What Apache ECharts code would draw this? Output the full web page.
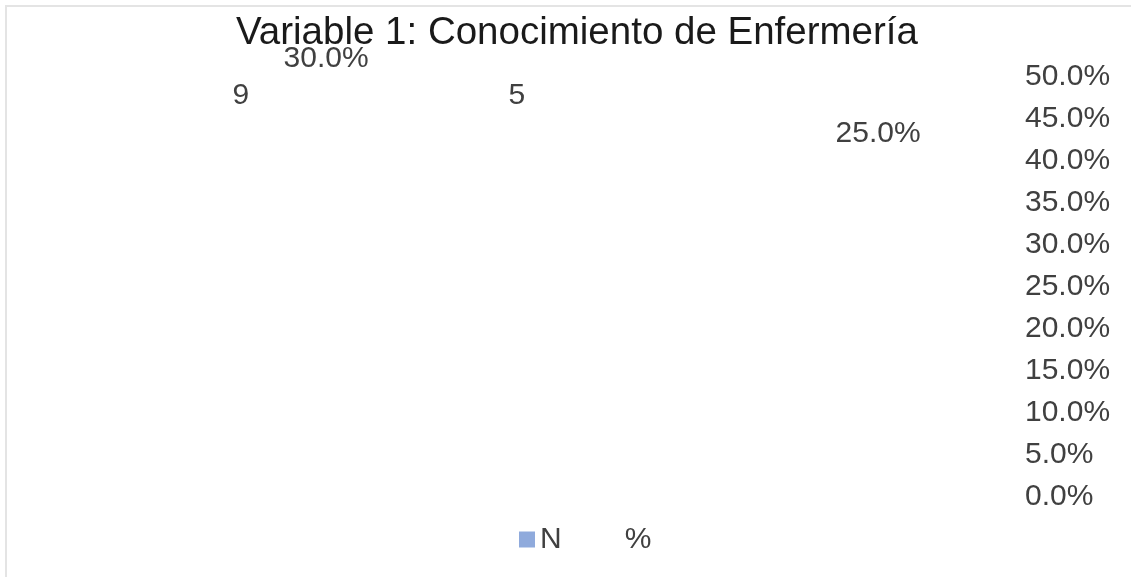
<!DOCTYPE html>
<html>
<head>
<meta charset="utf-8">
<script src="https://cdn.jsdelivr.net/npm/echarts@6/dist/echarts.min.js"></script>
<style>
  html, body { margin: 0; padding: 0; background: #fff; }
  #frame {
    position: absolute; left: 5px; top: 5px; width: 1140px; height: 590px;
    border-left: 2px solid #e4e4e4; border-top: 2px solid #e4e4e4;
  }
  #main { position: absolute; left: 0; top: 0; width: 1131px; height: 577px; }
</style>
</head>
<body>
<div id="frame"></div>
<div id="main"></div>
<script>
// datos del gráfico
var categorias = ['Bajo', 'Medio', 'Alto']
var valoresN = [9, 5, '-']
var valoresPct = [30, '-', 25]
var ticksPct = [0, 5, 10, 15, 20, 25, 30, 35, 40, 45, 50]

var gris = '#404040'
var fuente = '"Liberation Sans", Arial, sans-serif'
var tam = 30

var myChart = echarts.init(document.getElementById('main'))

var option = {
  animation: false,
  title: {
    text: 'Variable 1: Conocimiento de Enfermería',
    left: 231,
    top: 9,
    textStyle: { fontFamily: fuente, fontSize: 38.5, fontWeight: 'normal', color: '#1a1a1a' }
  },
  legend: {
    left: 514,
    top: 519.5,
    itemWidth: 16,
    itemHeight: 16,
    itemGap: 42,
    icon: 'rect',
    textStyle: { fontFamily: fuente, fontSize: tam, color: gris },
    data: [
      { name: 'N', itemStyle: { color: '#8FAADC' } },
      { name: '%', itemStyle: { color: 'rgba(0,0,0,0)' } }
    ]
  },
  grid: { left: 145.5, width: 828, top: 77, bottom: 80 },
  xAxis: {
    type: 'category',
    data: categorias,
    axisLine: { show: false },
    axisTick: { show: false },
    axisLabel: { show: false }
  },
  yAxis: [
    {
      type: 'value',
      position: 'right',
      min: ticksPct[0],
      max: ticksPct[ticksPct.length - 1],
      interval: 5,
      axisLine: { show: false },
      axisTick: { show: false },
      splitLine: { show: false },
      axisLabel: {
        margin: 51.5,
        showMaxLabel: true,
        showMinLabel: true,
        fontFamily: fuente,
        fontSize: tam,
        color: gris,
        formatter: function (v) { return v.toFixed(1) + '%' }
      }
    },
    // eje oculto para N (las barras sobrepasan el área y quedan recortadas)
    { type: 'value', show: false, min: 0, max: 4 },
    // eje oculto para %
    { type: 'value', show: false, min: 0, max: 28 }
  ],
  series: [
    {
      name: 'N',
      type: 'bar',
      yAxisIndex: 1,
      data: valoresN,
      barWidth: 60,
      barGap: '42%',
      itemStyle: { color: 'rgba(0,0,0,0)' },
      label: {
        show: true,
        position: 'insideTop',
        distance: 4,
        fontFamily: fuente,
        fontSize: tam,
        color: gris
      }
    },
    {
      name: '%',
      type: 'bar',
      yAxisIndex: 2,
      data: valoresPct,
      barWidth: 60,
      clip: false,
      itemStyle: { color: 'rgba(0,0,0,0)' },
      label: {
        show: true,
        position: 'insideTop',
        distance: -3,
        fontFamily: fuente,
        fontSize: tam,
        color: gris,
        formatter: function (p) { return p.value.toFixed(1) + '%' }
      }
    }
  ]
}

myChart.setOption(option)
</script>
</body>
</html>
